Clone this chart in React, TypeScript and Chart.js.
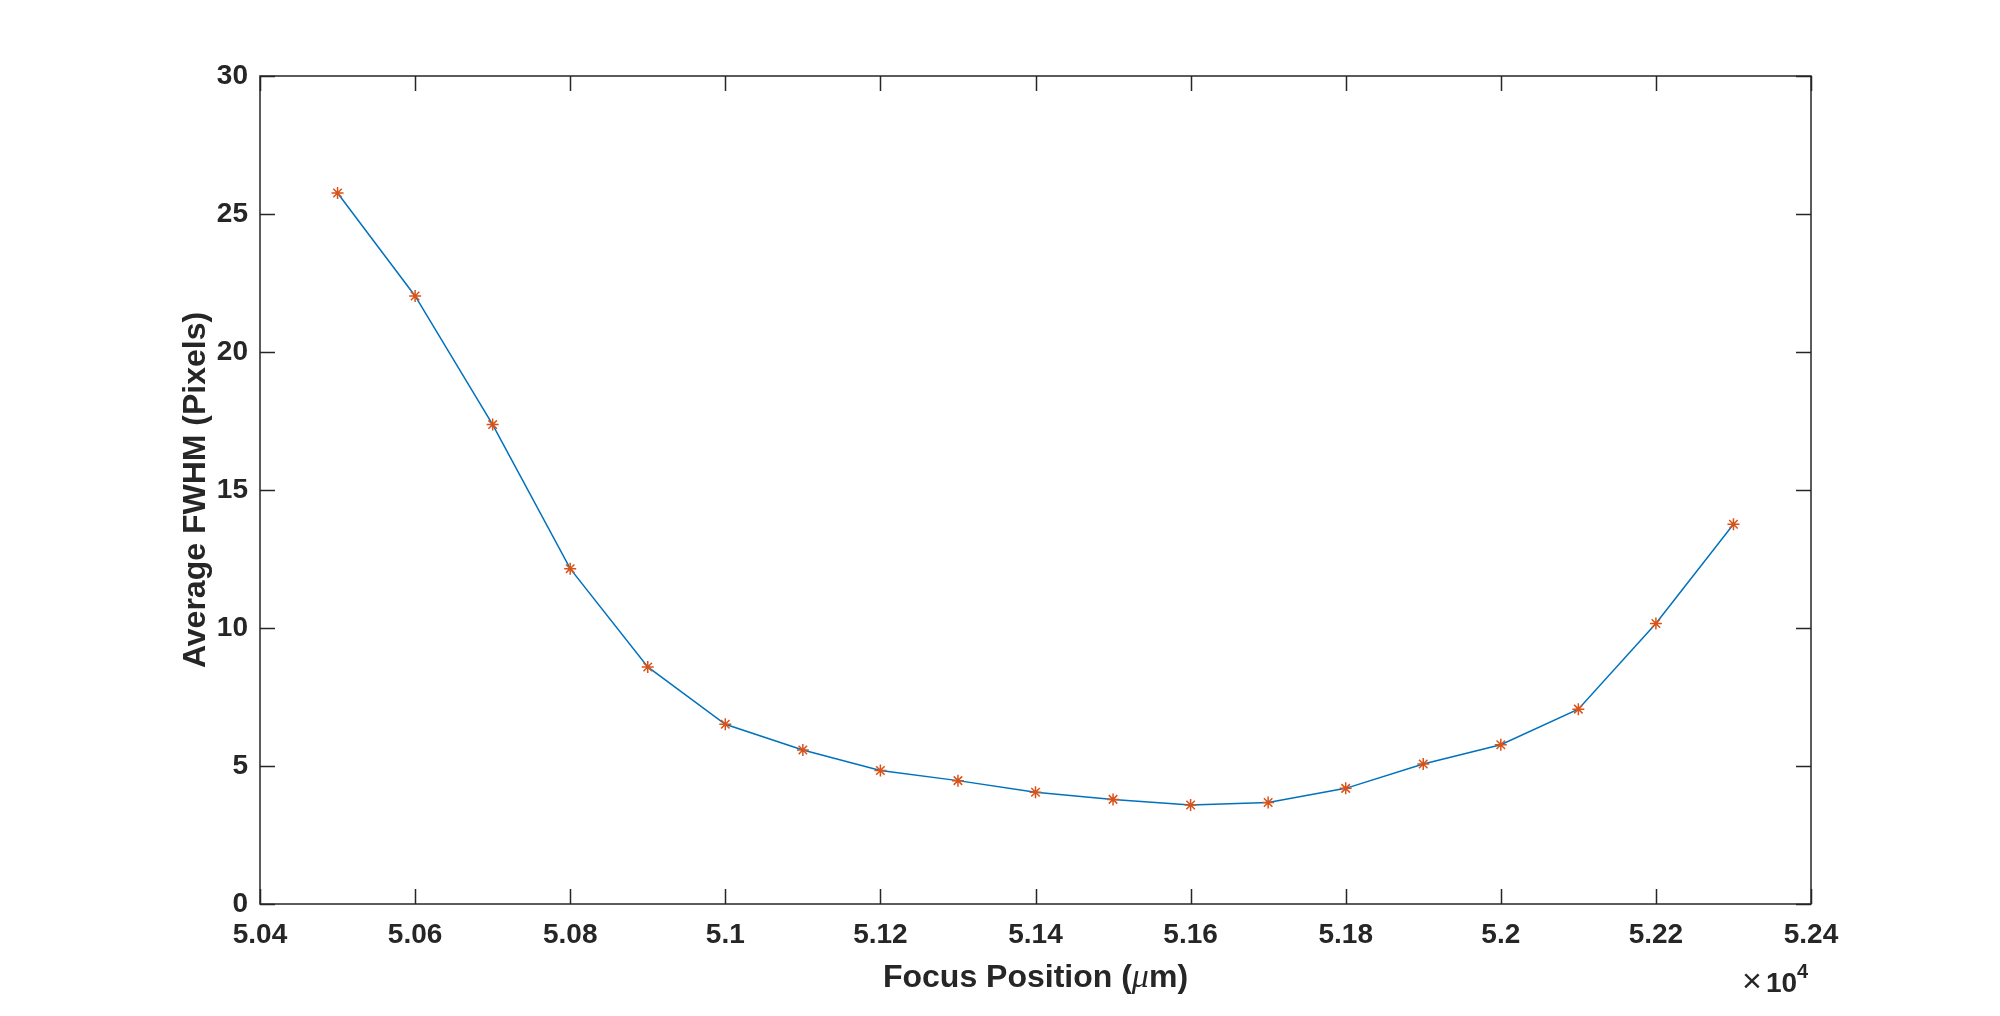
import React, { useEffect, useRef } from "react";
import { Chart, registerables } from "chart.js";

Chart.register(...registerables);

const focusPositions = [50500, 50600, 50700, 50800, 50900, 51000, 51100, 51200, 51300, 51400, 51500, 51600, 51700, 51800, 51900, 52000, 52100, 52200, 52300];
const avgFwhm = [25.76, 22.03, 17.37, 12.15, 8.59, 6.51, 5.58, 4.84, 4.47, 4.05, 3.79, 3.59, 3.68, 4.19, 5.07, 5.77, 7.06, 10.16, 13.76];
const xTickValues = [50400, 50600, 50800, 51000, 51200, 51400, 51600, 51800, 52000, 52200, 52400];
const yTickValues = [0, 5, 10, 15, 20, 25, 30];
const xLabelParts = ["Focus Position (", "\u03bc", "m)"];
const yLabel = "Average FWHM (Pixels)";
const exponentBase = "10";
const exponentPower = "4";

const FONT = "'Liberation Sans', Arial, Helvetica, sans-serif";
const SERIF = "'Liberation Serif', 'DejaVu Serif', serif";
const TEXT = "#262626";

const boxPlugin = {
  id: "boxTicks",
  afterDraw(chart: any) {
    const { ctx, chartArea } = chart;
    const { left, right, top, bottom } = chartArea;
    const xs = chart.scales.x;
    const ys = chart.scales.y;
    const tl = 15;
    ctx.save();
    ctx.strokeStyle = TEXT;
    ctx.lineWidth = 1.5;
    ctx.beginPath();
    for (const v of xTickValues) {
      const px = Math.round(xs.getPixelForValue(v)) + 0.5;
      ctx.moveTo(px, bottom);
      ctx.lineTo(px, bottom - tl);
      ctx.moveTo(px, top);
      ctx.lineTo(px, top + tl);
    }
    for (const v of yTickValues) {
      const py = Math.round(ys.getPixelForValue(v)) + 0.5;
      ctx.moveTo(left, py);
      ctx.lineTo(left + tl, py);
      ctx.moveTo(right, py);
      ctx.lineTo(right - tl, py);
    }
    ctx.stroke();
    ctx.strokeRect(left, top, right - left, bottom - top);

    ctx.fillStyle = TEXT;
    ctx.textAlign = "left";

    // x-axis title with italic mu
    const fonts = [`bold 32px ${FONT}`, `italic 34px ${SERIF}`, `bold 32px ${FONT}`];
    const widths = xLabelParts.map((t, i) => {
      ctx.font = fonts[i];
      return ctx.measureText(t).width;
    });
    const total = widths.reduce((a, b) => a + b, 0);
    let cx = (left + right) / 2 - total / 2;
    ctx.textBaseline = "alphabetic";
    xLabelParts.forEach((t, i) => {
      ctx.font = fonts[i];
      ctx.fillText(t, cx, bottom + 83);
      cx += widths[i];
    });

    // exponent label
    ctx.font = `normal 34px ${FONT}`;
    ctx.textBaseline = "middle";
    ctx.fillText("\u00d7", right - 69, bottom + 79);
    ctx.textBaseline = "alphabetic";
    ctx.font = `bold 28px ${FONT}`;
    ctx.fillText(exponentBase, right - 45, bottom + 88);
    ctx.font = `bold 20px ${FONT}`;
    ctx.fillText(exponentPower, right - 14, bottom + 74);
    ctx.restore();
  },
};

export default function App() {
  const ref = useRef<HTMLCanvasElement | null>(null);

  useEffect(() => {
    if (!ref.current) return;
    const chart = new Chart(ref.current, {
      type: "line",
      data: {
        datasets: [
          {
            data: focusPositions.map((x, i) => ({ x, y: avgFwhm[i] })),
            borderColor: "#0072BD",
            borderWidth: 1.5,
            pointStyle: "star",
            pointRadius: 6,
            pointBorderColor: "#D95319",
            pointBackgroundColor: "#D95319",
            pointBorderWidth: 1.5,
            fill: false,
            tension: 0,
          },
        ],
      },
      options: {
        animation: false,
        responsive: false,
        devicePixelRatio: 1,
        layout: { padding: { top: 76, right: 189, left: 0, bottom: 0 } },
        plugins: { legend: { display: false }, tooltip: { enabled: false } },
        scales: {
          x: {
            type: "linear",
            min: 50400,
            max: 52400,
            afterBuildTicks: (s: any) => {
              s.ticks = xTickValues.map((v) => ({ value: v }));
            },
            afterFit: (s: any) => {
              s.height = 112;
            },
            grid: { display: false, drawTicks: false },
            border: { display: false },
            ticks: {
              padding: 14,
              color: TEXT,
              font: { family: FONT, size: 28, weight: "bold" },
              maxRotation: 0,
              autoSkip: false,
              callback: (v: any) => String(parseFloat((Number(v) / 10000).toFixed(2))),
            },
            title: { display: false },
          },
          y: {
            type: "linear",
            min: 0,
            max: 30,
            afterBuildTicks: (s: any) => {
              s.ticks = yTickValues.map((v) => ({ value: v }));
            },
            afterFit: (s: any) => {
              s.width = 260;
            },
            grid: { display: false, drawTicks: false },
            border: { display: false },
            ticks: {
              padding: 12,
              color: TEXT,
              font: { family: FONT, size: 28, weight: "bold" },
              autoSkip: false,
            },
            title: {
              display: true,
              text: yLabel,
              color: TEXT,
              font: { family: FONT, size: 32, weight: "bold" },
              padding: { top: 177, bottom: 0 },
            },
          },
        },
      } as any,
      plugins: [boxPlugin],
    });
    return () => chart.destroy();
  }, []);

  return (
    <div style={{ position: "absolute", left: 0, top: 0, width: 2000, height: 1016, background: "#fff" }}>
      <canvas ref={ref} width={2000} height={1016} style={{ display: "block" }} />
    </div>
  );
}
